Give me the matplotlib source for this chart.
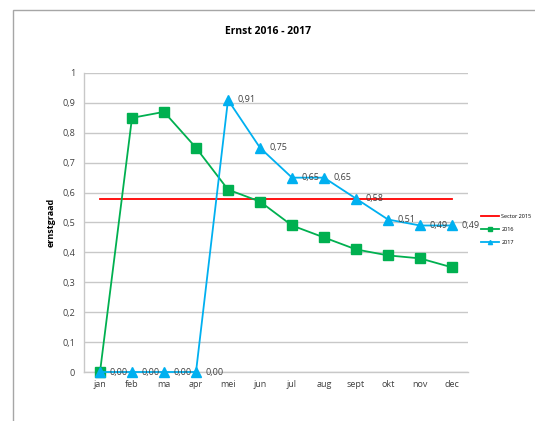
import matplotlib.pyplot as plt
from matplotlib.patches import Rectangle

months = ["jan", "feb", "ma", "apr", "mei", "jun", "jul", "aug", "sept", "okt", "nov", "dec"]
sector_2015 = [0.58] * 12
y2016 = [0.0, 0.85, 0.87, 0.75, 0.61, 0.57, 0.49, 0.45, 0.41, 0.39, 0.38, 0.35]
y2017 = [0.0, 0.0, 0.0, 0.0, 0.91, 0.75, 0.65, 0.65, 0.58, 0.51, 0.49, 0.49]
yticks = [0, 0.1, 0.2, 0.3, 0.4, 0.5, 0.6, 0.7, 0.8, 0.9, 1]

plt.rcParams['font.family'] = ['Open Sans', 'DejaVu Sans']

fig = plt.figure(figsize=(5.35, 4.21), dpi=100)
# chart area border (only top and left are visible in the crop)
fig.patches.append(Rectangle((13 / 535, -0.1), 1.2, 1 - 10 / 421 + 0.1, transform=fig.transFigure,
                             fill=False, edgecolor="#a6a6a6", linewidth=1.0))

ax = fig.add_axes([84 / 535, 1 - 372 / 421, 384 / 535, 299 / 421])
x = list(range(len(months)))

ax.plot(x, sector_2015, color="#ff0000", linewidth=1.3, label="Sector 2015", zorder=3)
ax.plot(x, y2016, color="#00b050", linewidth=1.3, marker="s", markersize=7,
        label="2016", zorder=4, clip_on=False)
ax.plot(x, y2017, color="#00b0f0", linewidth=1.3, marker="^", markersize=7.5,
        label="2017", zorder=5, clip_on=False)

for xi, v in zip(x, y2017):
    ax.annotate(("%.2f" % v).replace(".", ","), (xi, v), xytext=(7, 0),
                textcoords="offset points", va="center", ha="left", fontsize=6.5,
                color="#404040", zorder=6)

ax.set_xlim(-0.5, 11.5)
ax.set_ylim(0, 1)
ax.set_yticks(yticks)
ax.set_yticklabels([("%g" % t).replace(".", ",") for t in yticks])
ax.set_xticks(x)
ax.set_xticklabels(months)
ax.tick_params(length=0, labelsize=6.5, labelcolor="#404040")
ax.tick_params(axis="y", pad=6.5)
ax.tick_params(axis="x", pad=6)
ax.grid(axis="y", color="#c8c8c8", linewidth=1.0)
ax.set_axisbelow(True)
for s in ["top", "right"]:
    ax.spines[s].set_visible(False)
for s in ["left", "bottom"]:
    ax.spines[s].set_color("#c8c8c8")
    ax.spines[s].set_linewidth(1.0)

ax.set_ylabel("ernstgraad", fontsize=6.5, fontweight="bold", labelpad=5)
fig.text(268 / 535, 1 - 31 / 421, "Ernst 2016 - 2017", ha="center", va="center",
         fontsize=7.5, fontweight="bold")

ax.legend(loc="center left", bbox_to_anchor=(1.02, 0.477), frameon=False, fontsize=4,
          handlelength=3.3, labelspacing=1.5, handletextpad=0.4, markerscale=0.4)

plt.savefig("out.png", dpi=100)
